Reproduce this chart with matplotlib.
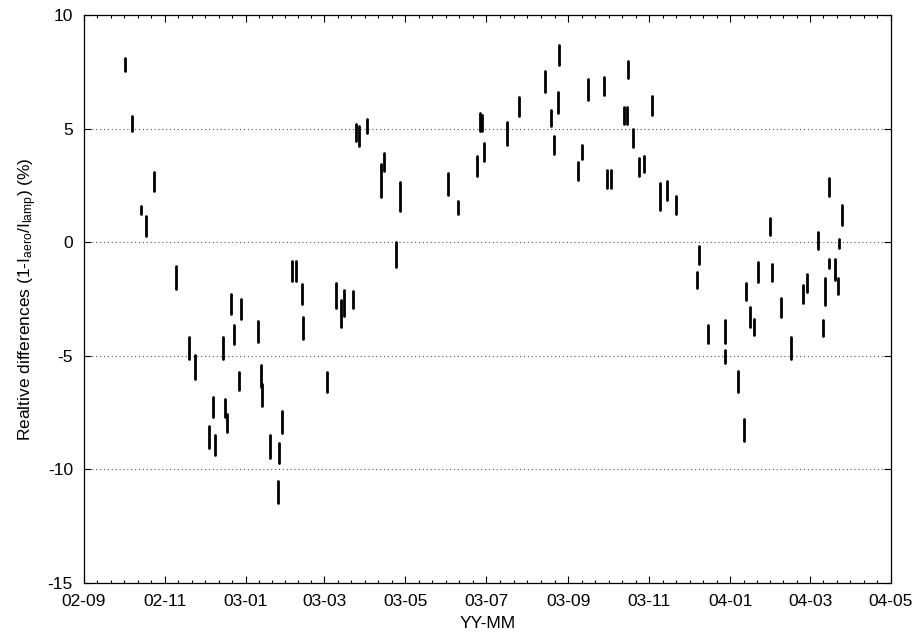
import numpy as np
import pandas as pd
import matplotlib
matplotlib.use("Agg")
import matplotlib.pyplot as plt
import matplotlib.dates as mdates

plt.rcParams['font.family'] = ['Liberation Sans', 'DejaVu Sans']
plt.rcParams['mathtext.fontset'] = 'custom'
plt.rcParams['mathtext.rm'] = 'Liberation Sans'
plt.rcParams['mathtext.it'] = 'Liberation Sans'
plt.rcParams['axes.unicode_minus'] = False

# measurement days and the spread of values seen on each day (%)
dates = [
    '2002-10-02', '2002-10-07', '2002-10-14', '2002-10-18', '2002-10-24',
    '2002-11-09', '2002-11-19', '2002-11-24', '2002-12-04', '2002-12-07',
    '2002-12-09', '2002-12-15', '2002-12-16', '2002-12-18', '2002-12-21',
    '2002-12-23', '2002-12-27', '2002-12-28', '2003-01-10', '2003-01-12',
    '2003-01-13', '2003-01-19', '2003-01-25', '2003-01-26', '2003-01-28',
    '2003-02-05', '2003-02-08', '2003-02-12', '2003-02-13', '2003-03-03',
    '2003-03-10', '2003-03-14', '2003-03-16', '2003-03-23', '2003-03-25',
    '2003-03-27', '2003-04-02', '2003-04-13', '2003-04-15', '2003-04-24',
    '2003-04-27', '2003-06-02', '2003-06-10', '2003-06-24', '2003-06-26',
    '2003-06-28', '2003-06-29', '2003-07-17', '2003-07-26', '2003-08-14',
    '2003-08-19', '2003-08-21', '2003-08-24', '2003-08-25', '2003-09-08',
    '2003-09-11', '2003-09-16', '2003-09-28', '2003-09-30', '2003-10-03',
    '2003-10-13', '2003-10-15', '2003-10-16', '2003-10-20', '2003-10-24',
    '2003-10-28', '2003-11-03', '2003-11-09', '2003-11-14', '2003-11-21',
    '2003-12-07', '2003-12-08', '2003-12-15', '2003-12-28', '2003-12-28',
    '2004-01-07', '2004-01-11', '2004-01-13', '2004-01-16', '2004-01-19',
    '2004-01-22', '2004-01-31', '2004-02-01', '2004-02-08', '2004-02-16',
    '2004-02-25', '2004-02-28', '2004-03-07', '2004-03-11', '2004-03-12',
    '2004-03-15', '2004-03-15', '2004-03-20', '2004-03-22', '2004-03-23',
    '2004-03-25',
]
y_low = [
    7.54, 4.89, 1.22, 0.28, 2.27,
    -2.07, -5.13, -6.03, -9.06, -7.70,
    -9.38, -5.16, -7.70, -8.36, -3.16,
    -4.47, -6.49, -3.38, -4.38, -6.39,
    -7.19, -9.52, -11.46, -9.74, -8.39,
    -1.73, -1.73, -2.72, -4.25, -6.61,
    -2.90, -3.73, -3.26, -2.90, 4.45,
    4.23, 4.79, 1.99, 3.14, -1.08,
    1.39, 2.09, 1.22, 2.92, 4.89,
    4.89, 3.58, 4.28, 5.57, 6.63,
    5.10, 3.87, 5.69, 7.80, 2.75,
    3.65, 6.27, 6.49, 2.37, 2.37,
    5.22, 5.22, 7.22, 4.21, 2.92,
    3.07, 5.59, 1.42, 1.87, 1.25,
    -2.03, -0.98, -4.43, -4.43, -5.33,
    -6.61, -8.77, -2.54, -3.74, -4.09,
    -1.76, 0.30, -1.71, -3.30, -5.12,
    -2.68, -2.20, -0.30, -4.14, -2.76,
    2.05, -1.15, -1.66, -2.26, -0.24,
    0.77,
]
y_high = [
    8.12, 5.57, 1.61, 1.17, 3.07,
    -1.03, -4.18, -4.98, -8.07, -6.83,
    -8.47, -4.17, -6.90, -7.56, -2.29,
    -3.65, -5.71, -2.51, -3.48, -5.42,
    -6.25, -8.48, -10.51, -8.84, -7.45,
    -0.82, -0.82, -1.84, -3.31, -5.71,
    -1.81, -2.54, -2.10, -2.14, 5.18,
    5.10, 5.44, 3.43, 3.94, 0.00,
    2.63, 3.04, 1.80, 3.79, 5.69,
    5.60, 4.35, 5.30, 6.37, 7.54,
    5.83, 4.67, 6.59, 8.70, 3.51,
    4.28, 7.19, 7.26, 3.18, 3.18,
    5.95, 5.95, 7.97, 4.96, 3.72,
    3.79, 6.45, 2.60, 2.68, 2.05,
    -1.33, -0.16, -3.63, -3.41, -4.76,
    -5.69, -7.78, -1.81, -2.87, -3.37,
    -0.88, 1.06, -0.98, -2.46, -4.18,
    -1.88, -1.41, 0.45, -3.44, -1.56,
    2.81, -0.72, -0.72, -1.59, 0.13,
    1.64,
]

x = pd.to_datetime(dates)

fig = plt.figure(figsize=(9.14, 6.35), dpi=100)
ax = fig.add_axes([0.0919, 0.0819, 0.8829, 0.8945])

ax.vlines(x, y_low, y_high, colors='black', linewidth=2.0, capstyle='round')

# axes limits and ticks
ax.set_ylim(-15, 10)
ax.set_yticks([-15, -10, -5, 0, 5, 10])
start, end = pd.Timestamp('2002-09-01'), pd.Timestamp('2004-05-01')
ax.set_xlim(start, end)
major = pd.date_range(start, end, freq='2MS')
ax.set_xticks(major)
ax.xaxis.set_major_formatter(mdates.DateFormatter('%y-%m'))
major_num = mdates.date2num(major)
minor = []
for a, b in zip(major_num[:-1], major_num[1:]):
    minor.extend(np.linspace(a, b, 7)[1:-1])
ax.set_xticks(minor, minor=True)

ax.tick_params(which='both', direction='in', top=True, right=True,
               labelsize=12.5, width=0.8, color='black')
ax.tick_params(which='major', length=5)
ax.tick_params(which='minor', length=2.5)
ax.tick_params(axis='x', pad=8)
ax.tick_params(axis='y', pad=8)

for s in ax.spines.values():
    s.set_linewidth(0.9)

for yv in [-10, -5, 0, 5]:
    ax.axhline(yv, color='#555555', linestyle=(0, (1, 2.5)), linewidth=0.8, zorder=0)

ax.set_xlabel('YY-MM', fontsize=12.5, labelpad=5)
ax.set_ylabel(r'Realtive differences (1-I$_{\mathrm{aero}}$/I$_{\mathrm{lamp}}$) (%)',
              fontsize=12.5, labelpad=6)

fig.savefig('out.png', dpi=100)
